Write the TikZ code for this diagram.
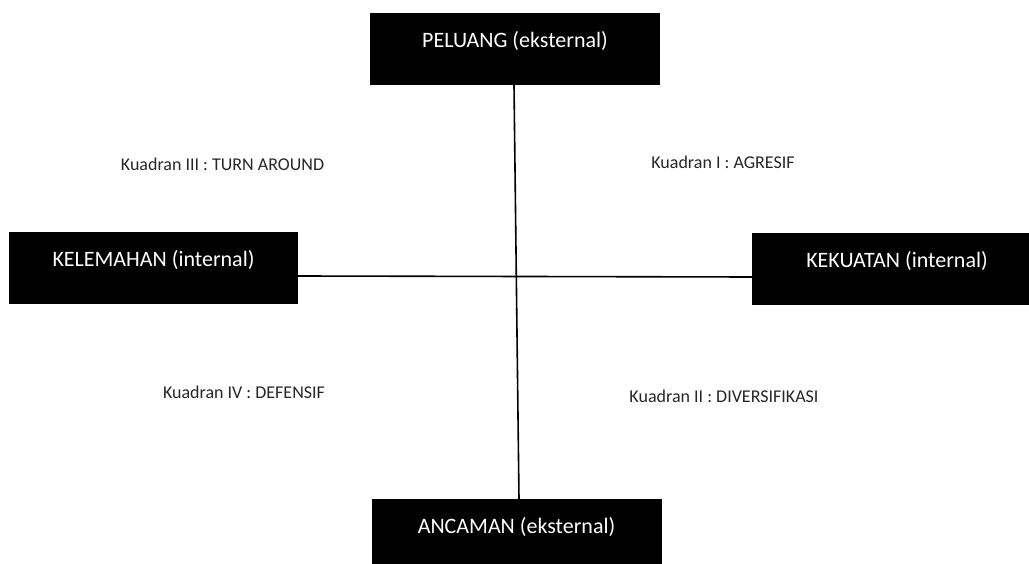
\documentclass[tikz,border=0pt]{standalone}
\usepackage{fontspec}
\setmainfont{Carlito}

\begin{document}
\begin{tikzpicture}[x=1pt,y=-1pt,
  kotak/.style={fill=black,text=white,inner sep=0pt,minimum width=290pt,
    text height=34.5pt,text depth=37.5pt,font=\fontsize{22}{26}\selectfont},
  kuadran/.style={inner sep=0pt,text=black!85,font=\fontsize{18}{21}\selectfont},
  garis/.style={line width=1.6pt,black}]
\useasboundingbox (0,0) rectangle (1029,564);
\clip (0,0) rectangle (1029,564);
\node[kotak] (peluang) at (515,49) {PELUANG (eksternal)};
\node[kotak] (ancaman) at (516.5,535) {ANCAMAN (eksternal)};
\node[kotak,minimum width=289pt] (kelemahan) at (153.5,268) {KELEMAHAN (internal)};
\node[kotak] (kekuatan) at (897,269) {KEKUATAN (internal)};

\node[kuadran] (kuadIII) at (222.5,164) {Kuadran III : TURN AROUND};
\node[kuadran] (kuadI) at (723,162) {Kuadran I : AGRESIF};
\node[kuadran] (kuadIV) at (244,392) {Kuadran IV : DEFENSIF};
\node[kuadran] (kuadII) at (724,396) {Kuadran II : DIVERSIFIKASI};

\draw[garis] ([xshift=-1pt]peluang.south) -- ([xshift=2.5pt]ancaman.north);
\draw[garis] ([yshift=-8pt]kelemahan.east) -- ([yshift=-8pt]kekuatan.west);
\end{tikzpicture}
\end{document}
